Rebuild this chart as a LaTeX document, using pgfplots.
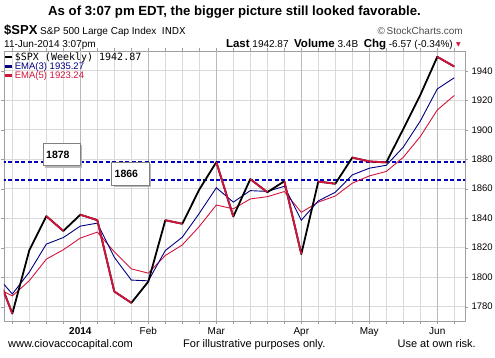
\documentclass[border=0pt]{standalone}
\usepackage{pgfplots}
\pgfplotsset{compat=1.18}
\usepackage{fontspec}
\setmainfont{Liberation Sans}
\newfontfamily\monofont{DejaVu Sans Mono}
\newfontfamily\dejavu{DejaVu Sans}
\definecolor{emablue}{RGB}{0,0,128}
\definecolor{emared}{RGB}{210,20,60}
\definecolor{dashblue}{RGB}{0,0,190}
\definecolor{gridgray}{RGB}{218,218,218}
\definecolor{monthgray}{RGB}{185,185,185}

\pgfplotstableread{
i price
-1 1805.09
0 1775.32
1 1818.32
2 1841.40
3 1831.37
4 1842.37
5 1838.70
6 1790.29
7 1782.59
8 1797.02
9 1838.63
10 1836.25
11 1859.45
12 1878.04
13 1841.13
14 1866.52
15 1857.62
16 1865.09
17 1815.69
18 1864.85
19 1863.40
20 1881.14
21 1878.48
22 1877.86
23 1900.53
24 1923.57
25 1949.44
26 1942.87
}\pricetable

\pgfplotstableread{
i ema
-1 1801.90
0 1788.60
1 1803.46
2 1822.43
3 1826.90
4 1834.64
5 1836.67
6 1813.48
7 1798.04
8 1797.53
9 1818.08
10 1827.17
11 1843.31
12 1860.68
13 1850.91
14 1858.71
15 1858.17
16 1861.63
17 1838.66
18 1851.76
19 1857.58
20 1869.36
21 1873.92
22 1875.89
23 1888.21
24 1905.89
25 1927.67
26 1935.27
}\emathree

\pgfplotstableread{
i ema
-1 1793.29
0 1787.30
1 1797.64
2 1812.23
3 1818.61
4 1826.53
5 1830.59
6 1817.16
7 1805.64
8 1802.77
9 1814.72
10 1821.90
11 1834.42
12 1848.96
13 1846.35
14 1853.07
15 1854.59
16 1858.09
17 1843.96
18 1850.92
19 1855.08
20 1863.77
21 1868.67
22 1871.73
23 1881.33
24 1895.41
25 1913.42
26 1923.24
}\emafive

\begin{document}
\begin{tikzpicture}[x=1pt,y=1pt]
\path[use as bounding box] (0,0) rectangle (495,358);
\begin{axis}[
  at={(4pt,37pt)}, anchor=south west,
  scale only axis, width=461pt, height=270pt,
  xmin=-0.49, xmax=26.63, ymin=1770.3, ymax=1953.4,
  axis line style={draw=gray!75},
  xtick={4,8,12,17,21,25},
  xticklabels={\textbf{2014},Feb,Mar,Apr,May,Jun},
  minor xtick={-1,0,...,27},
  extra x ticks={4,8,12,17,21,25},
  extra x tick labels={},
  extra x tick style={grid=major, major grid style={monthgray, line width=0.7pt}},
  ytick={1780,1800,...,1940},
  yticklabel pos=right,
  tick align=outside,
  major tick length=3pt, minor tick length=3pt,
  tick style={gray!75},
  xminorgrids, ymajorgrids,
  major grid style={gridgray, line width=0.6pt},
  minor grid style={gridgray, line width=0.6pt},
  /pgf/number format/assume math mode=true,
  /pgf/number format/1000 sep={},
  xticklabel style={font=\fontsize{10}{12}\selectfont},
  yticklabel style={font=\fontsize{9.5}{11}\selectfont},
  unbounded coords=jump,
  legend style={at={(axis description cs:0,1)}, anchor=north west, draw=none, fill=none,
    inner sep=0pt, row sep=-2.5pt, font=\fontsize{9.5}{11}\selectfont,
    nodes={inner sep=1.5pt}},
  legend cell align=left,
  legend image code/.code={\draw[#1, line width=2.2pt] (0pt,0pt) -- (7pt,0pt);},
]
\addlegendimage{black}
\addlegendentry{{\monofont\fontsize{10}{11}\selectfont \$SPX (Weekly) 1942.87}}
\addlegendimage{emablue}
\addlegendentry{\textcolor{emablue}{EMA(3) 1935.27}}
\addlegendimage{emared}
\addlegendentry{\textcolor{emared}{EMA(5) 1923.24}}

\addplot[dashblue, line width=2pt, dash pattern=on 4pt off 2.5pt, forget plot] coordinates {(-1,1878) (27,1878)};
\addplot[dashblue, line width=2pt, dash pattern=on 4pt off 2.5pt, forget plot] coordinates {(-1,1866) (27,1866)};

\addplot[emared, line width=0.9pt, forget plot] table[x=i, y=ema] {\emafive};
\addplot[emablue, line width=0.9pt, forget plot] table[x=i, y=ema] {\emathree};
\addplot[black, line width=1.8pt, line join=round, forget plot] table[x=i, y=price] {\pricetable};
\addplot[emared, line width=1.8pt, line join=round, forget plot] coordinates {
(-1,1805.09) (0,1775.32) (0,nan)
(2,1841.40) (3,1831.37) (3,nan)
(4,1842.37) (5,1838.70) (6,1790.29) (7,1782.59) (7,nan)
(9,1838.63) (10,1836.25) (10,nan)
(12,1878.04) (13,1841.13) (13,nan)
(14,1866.52) (15,1857.62) (15,nan)
(16,1865.09) (17,1815.69) (17,nan)
(18,1864.85) (19,1863.40) (19,nan)
(20,1881.14) (21,1878.48) (22,1877.86) (22,nan)
(25,1949.44) (26,1942.87)
};
\end{axis}

% annotation boxes
\fill[gray!55] (45.3,190.3) rectangle (82,212.7);
\draw[gray, fill=white, line width=0.6pt] (43.3,192.3) rectangle (80,214.7);
\node[anchor=west, inner sep=0pt, font=\bfseries\fontsize{10.5}{12}\selectfont] at (46,203.5) {1878};
\fill[gray!55] (113.7,171) rectangle (151.3,193.7);
\draw[gray, fill=white, line width=0.6pt] (111.7,173) rectangle (149.3,195.7);
\node[anchor=west, inner sep=0pt, font=\bfseries\fontsize{10.5}{12}\selectfont] at (114.5,184.3) {1866};

% title and header
\node[inner sep=0pt, font=\bfseries\fontsize{13.2}{15}\selectfont] at (234.5,346) {As of 3:07 pm EDT, the bigger picture still looked favorable.};
\node[anchor=base west, inner sep=0pt] at (4,323) {{\bfseries\fontsize{13}{15}\selectfont \$SPX}\ {\fontsize{10}{12}\selectfont S\&P 500 Large Cap Index}\ \ {\dejavu\fontsize{9.5}{12}\selectfont INDX}};
\node[anchor=base east, inner sep=0pt, text=black!70, font=\fontsize{10}{12}\selectfont] at (463,323) {\textcopyright\,StockCharts.com};
\node[anchor=base west, inner sep=0pt, font=\fontsize{10}{12}\selectfont] at (4,310.7) {11-Jun-2014 3:07pm};
\node[anchor=base east, inner sep=0pt, font=\fontsize{10}{12}\selectfont] at (453,310.7) {{\bfseries\fontsize{11.5}{13}\selectfont Last} 1942.87\ \ {\bfseries\fontsize{11.5}{13}\selectfont Volume} 3.4B\ \ {\bfseries\fontsize{11.5}{13}\selectfont Chg} -6.57 (-0.34\%)};
\node[anchor=base west, inner sep=0pt, text=emared, font=\dejavu\fontsize{6}{7}\selectfont] at (456,311.5) {▼};

% footer
\node[anchor=base west, inner sep=0pt, font=\fontsize{11}{13}\selectfont] at (8,10.3) {www.ciovaccocapital.com};
\node[anchor=base west, inner sep=0pt, font=\fontsize{11}{13}\selectfont] at (183,10.3) {For illustrative purposes only.};
\node[anchor=base east, inner sep=0pt, font=\fontsize{11}{13}\selectfont] at (476,10.3) {Use at own risk.};
\end{tikzpicture}
\end{document}
